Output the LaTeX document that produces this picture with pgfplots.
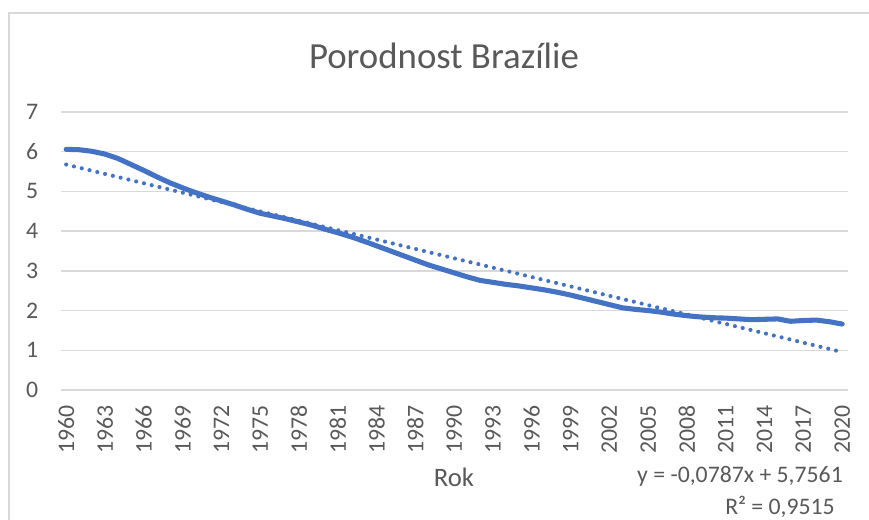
\documentclass[border=0pt]{standalone}
\usepackage{pgfplots}
\pgfplotsset{compat=1.18}
\usepackage{fontspec}
\setmainfont{Carlito}
\definecolor{txtgrey}{HTML}{595959}
\definecolor{gridgrey}{HTML}{D9D9D9}
\definecolor{exblue}{HTML}{4472C4}
\begin{document}
\begin{tikzpicture}
\useasboundingbox (0pt,0pt) rectangle (651.75pt,390pt);
\draw[gridgrey, line width=0.9pt] (6.75pt,0pt) -- (6.75pt,380.25pt) -- (651.75pt,380.25pt);
\node[font=\fontsize{27.6pt}{30pt}\selectfont, text=txtgrey, anchor=base] at (333pt,338.25pt) {Porodnost Brazílie};
\begin{axis}[
  at={(45.75pt,97.5pt)}, anchor=south west,
  scale only axis,
  width=590.25pt, height=208.5pt,
  xmin=1959.6, xmax=2020.45,
  ymin=0, ymax=7,
  axis line style={draw=none},
  major tick length=0pt,
  ytick={0,1,...,7},
  xtick={1960,1963,...,2020},
  ymajorgrids=true,
  grid style={gridgrey, line width=1pt},
  /pgf/number format/assume math mode=true,
  xticklabel={\pgfmathprintnumber[1000 sep={}]{\tick}},
  ticklabel style={font=\fontsize{17.8pt}{20pt}\selectfont, text=txtgrey, inner sep=0pt},
  xticklabel style={rotate=90, anchor=east},
  yticklabel style={anchor=east},
  xticklabel shift=11.25pt,
  yticklabel shift=17pt,
  clip=false,
]
\addplot[exblue, line width=3.8pt, line join=round, line cap=round] coordinates {
(1960,6.06) (1961,6.05) (1962,6.01) (1963,5.94) (1964,5.83) (1965,5.68)
(1966,5.53) (1967,5.37) (1968,5.22) (1969,5.09) (1970,4.97) (1971,4.86)
(1972,4.76) (1973,4.66) (1974,4.55) (1975,4.45) (1976,4.38) (1977,4.31)
(1978,4.23) (1979,4.15) (1980,4.05) (1981,3.96) (1982,3.86) (1983,3.75)
(1984,3.63) (1985,3.51) (1986,3.39) (1987,3.27) (1988,3.15) (1989,3.05)
(1990,2.95) (1991,2.85) (1992,2.76) (1993,2.71) (1994,2.66) (1995,2.62)
(1996,2.57) (1997,2.52) (1998,2.46) (1999,2.39) (2000,2.31) (2001,2.23)
(2002,2.15) (2003,2.07) (2004,2.03) (2005,2.00) (2006,1.96) (2007,1.91)
(2008,1.87) (2009,1.84) (2010,1.82) (2011,1.81) (2012,1.79) (2013,1.77)
(2014,1.78) (2015,1.79) (2016,1.73) (2017,1.75) (2018,1.76) (2019,1.72)
(2020,1.66)
};
\addplot[exblue, line width=3.1pt, line cap=round, dash pattern=on 0pt off 6pt] coordinates {
(1960,5.6774) (2020,0.9554)
};
\end{axis}
\node[font=\fontsize{20pt}{24pt}\selectfont, text=txtgrey, anchor=base] at (340.5pt,24.75pt) {Rok};
\node[font=\fontsize{17.8pt}{20pt}\selectfont, text=txtgrey, anchor=base east, inner sep=0pt] at (632.25pt,27.75pt) {y = -0,0787x + 5,7561};
\node[font=\fontsize{17.8pt}{20pt}\selectfont, text=txtgrey, anchor=base east, inner sep=0pt] at (626.25pt,3.75pt) {R² = 0,9515};
\end{tikzpicture}
\end{document}
